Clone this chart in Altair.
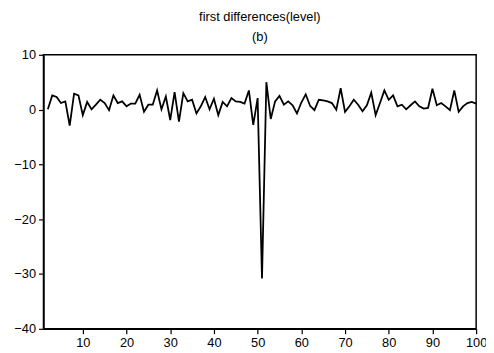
import altair as alt
import pandas as pd

t = list(range(2, 101))
dlevel = [
    0.05, 2.6, 2.3, 1.2, 1.5, -2.9, 2.9, 2.6, -1.0, 1.4,      # 2-11
    0.05, 0.9, 1.8, 1.2, -0.1, 2.6, 1.2, 1.5, 0.6, 1.1,       # 12-21
    1.1, 2.7, -0.4, 0.9, 0.9, 3.5, 0.05, 2.4, -1.9, 3.2,      # 22-31
    -2.2, 3.0, 1.5, 1.8, -0.7, 0.6, 2.3, 0.05, 2.0, -1.0,     # 32-41
    1.4, 0.6, 2.1, 1.5, 1.4, 1.1, 3.5, -2.8, 2.1, -30.8,      # 42-51
    5.0, -1.7, 1.5, 2.5, 0.9, 1.5, 0.8, -0.7, 1.3, 2.8,       # 52-61
    0.7, -0.1, 1.8, 1.7, 1.5, 1.2, 0.0, 3.9, -0.4, 0.6,       # 62-71
    1.8, 0.9, -0.3, 0.8, 3.1, -1.0, 1.2, 3.5, 1.8, 2.6,       # 72-81
    0.6, 0.9, 0.05, 0.8, 1.5, 0.6, 0.2, 0.3, 3.8, 0.8,        # 82-91
    1.2, 0.6, -0.1, 3.5, -0.4, 0.6, 1.2, 1.4, 1.1,            # 92-100
]
x_ticks = [10, 20, 30, 40, 50, 60, 70, 80, 90, 100]
y_ticks = [10, 0, -10, -20, -30, -40]

df = pd.DataFrame({"t": t, "d": dlevel})

chart = alt.Chart(df).mark_line(color="black", strokeWidth=1.8).encode(
    x=alt.X("t:Q", scale=alt.Scale(domain=[1, 100], nice=False, zero=False),
            axis=alt.Axis(values=x_ticks, title=None, grid=False, tickSize=5,
                          labelPadding=3, labelFontSize=13, labelColor="black",
                          domainColor="black", tickColor="black", domainWidth=1.5,
                          tickWidth=1.2, labelFont="Liberation Sans", labelFlush=False)),
    y=alt.Y("d:Q", scale=alt.Scale(domain=[-40, 10], nice=False),
            axis=alt.Axis(values=y_ticks, title=None, grid=False, tickSize=5,
                          labelPadding=3, labelFontSize=13, labelColor="black",
                          domainColor="black", tickColor="black", domainWidth=1.5,
                          tickWidth=1.2, labelFont="Liberation Sans")),
).properties(
    width=439,
    height=278,
    title=alt.TitleParams(
        text="first differences(level)",
        subtitle="(b)",
        anchor="middle",
        fontSize=13,
        fontWeight="normal",
        subtitleFontSize=13,
        font="Liberation Sans",
        subtitleFont="Liberation Sans",
        color="black",
        subtitleColor="black",
        subtitlePadding=7,
        offset=5,
    ),
    autosize=alt.AutoSizeParams(type="none"),
    padding={"left": 36, "top": 45, "right": 10, "bottom": 20},
).configure_view(stroke="black", strokeWidth=1.5)

chart.save("out.html", embed_options={"renderer": "svg", "actions": False})
